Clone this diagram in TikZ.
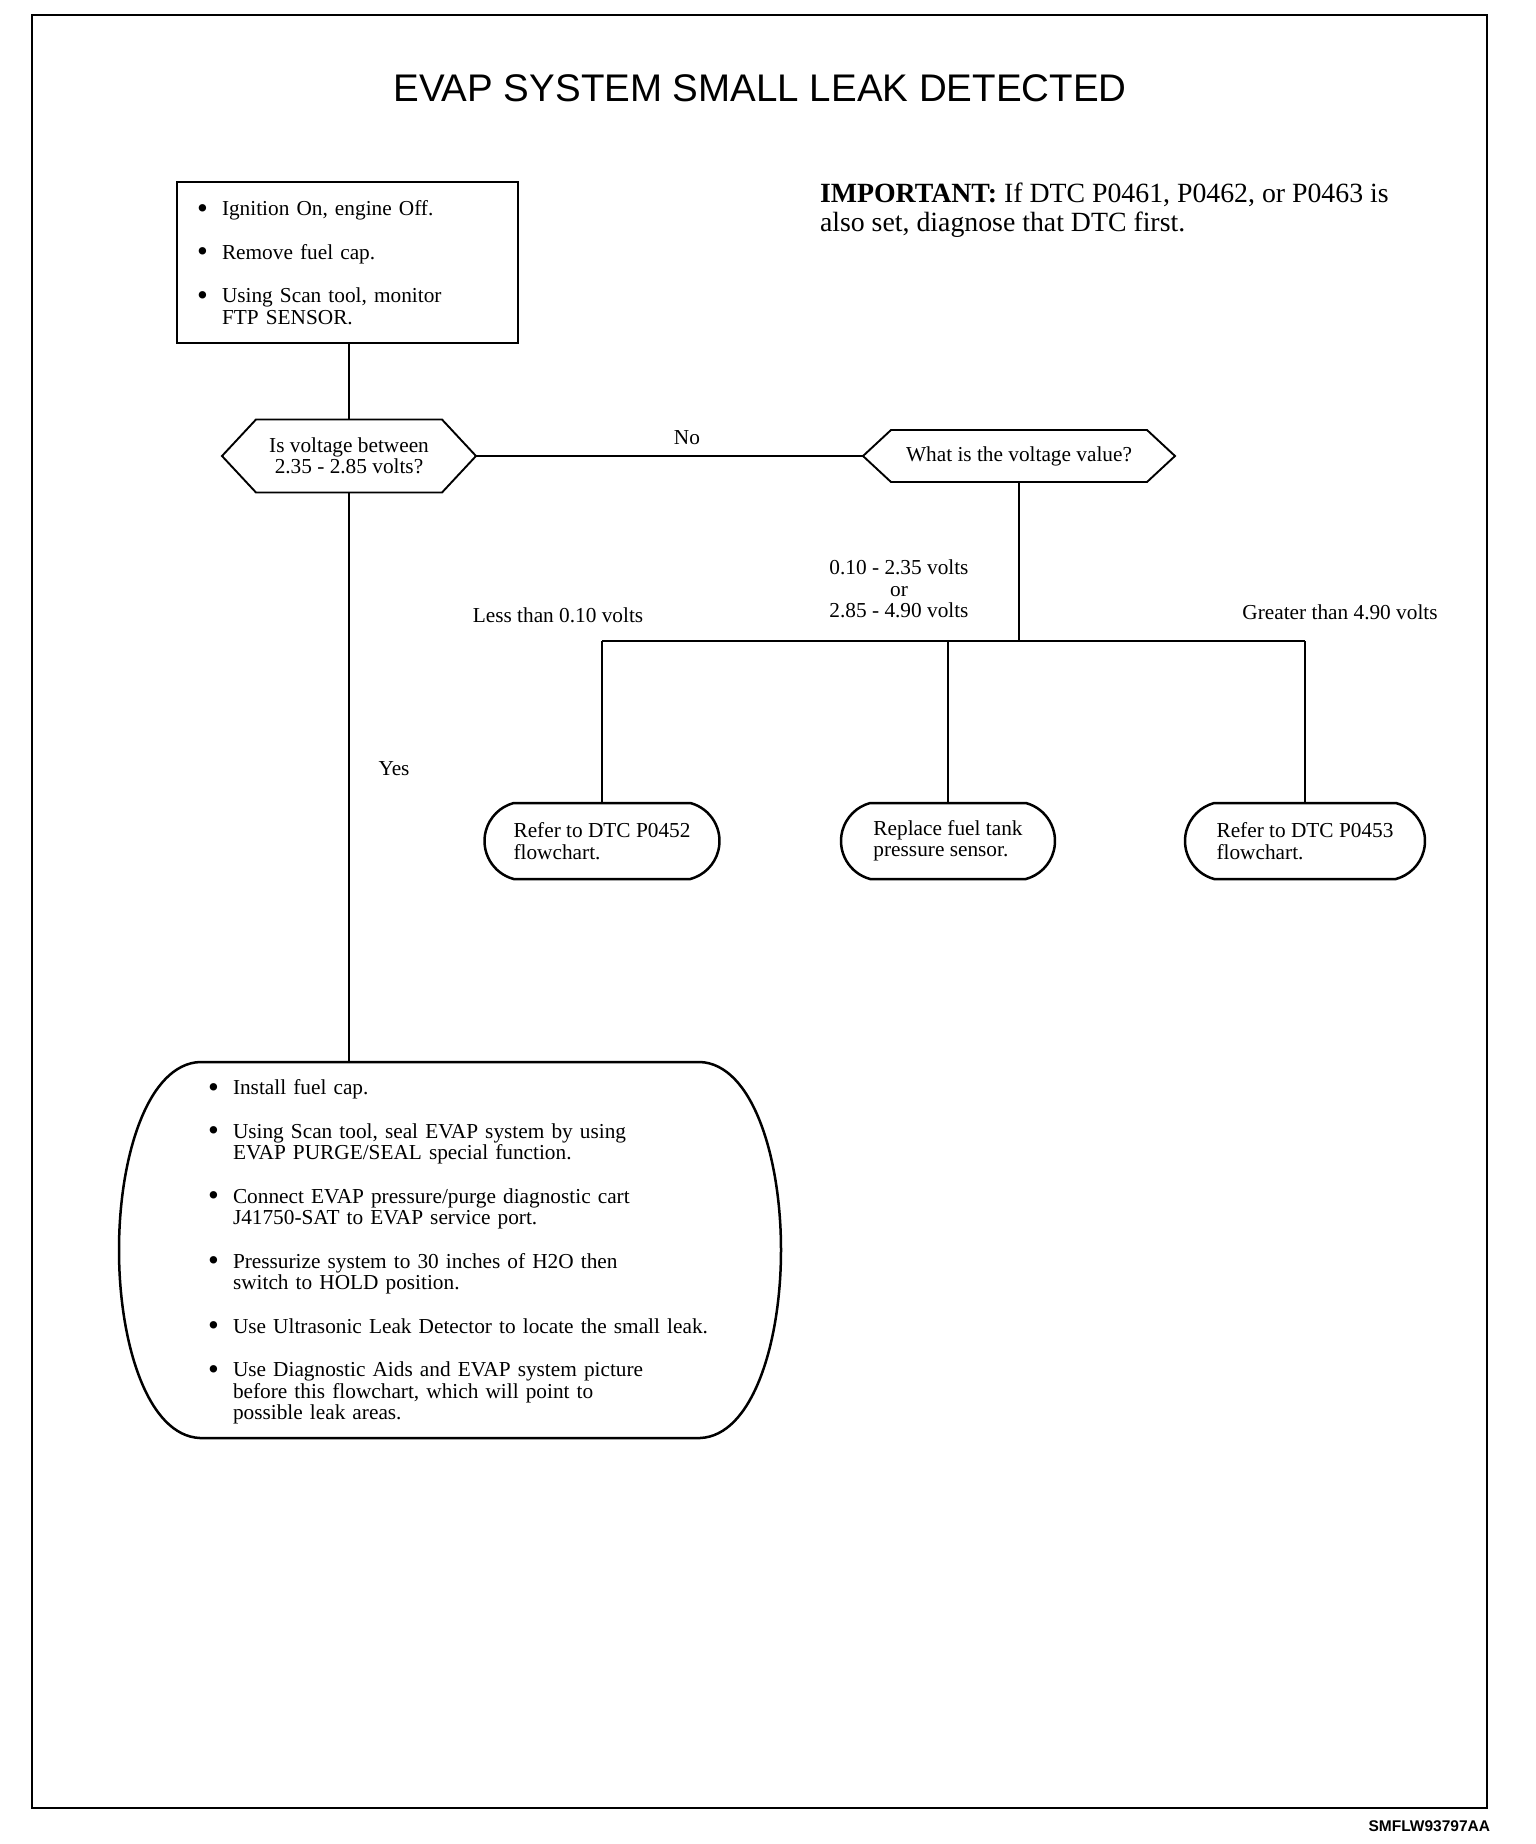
\documentclass[tikz,border=0pt]{standalone}
\usepackage{fontspec}
\usetikzlibrary{shapes.misc}
\setmainfont{Liberation Serif}
\newfontfamily\mysans{Liberation Sans}
\newcommand\mybul{\makebox[25pt][l]{\raisebox{-0.12em}{\scalebox{1.45}{\textbullet}}}}
\newcommand\myind{\hspace*{25pt}}
\begin{document}
\begin{tikzpicture}[x=1pt,y=-1pt,
  every node/.style={inner sep=0pt, outer sep=0pt},
  txt/.style={font=\fontsize{21.3}{21.5}\selectfont},
  frameline/.style={line width=2pt},
  boxline/.style={draw, line width=2.6pt},
  conn/.style={line width=1.5pt},
  hexline/.style={line width=1.9pt, line join=miter},
  bigline/.style={line width=2.5pt},
  ovalbox/.style={draw, line width=2.5pt, rounded rectangle, rounded rectangle arc length=150, minimum height=76pt, align=left}
]
\useasboundingbox (0,0) rectangle (1536,1844);
\fill[white] (0,0) rectangle (1536,1844);
\draw[frameline] (32,15) rectangle (1487,1808);

% title and note
\node[font=\mysans\fontsize{38.5}{40}\selectfont] (title) at (760,88) {EVAP SYSTEM SMALL LEAK DETECTED};
\node[anchor=north west, align=left, font=\fontsize{27.8}{28.5}\selectfont] (imp) at (820,183)
  {\textbf{IMPORTANT:} If DTC P0461, P0462, or P0463 is\\also set, diagnose that DTC first.};

% first box
\node[boxline, txt, minimum width=341pt, minimum height=161pt, text width=301pt, inner xsep=20pt, align=left] (b1) at (347.5,262.5)
  {\mybul Ignition On, engine Off.\\[22pt]
   \mybul Remove fuel cap.\\[22pt]
   \mybul Using Scan tool, monitor\\
   \myind FTP SENSOR.};

% decisions
\node[txt, align=center, minimum width=254pt, minimum height=73pt] (h1) at (349,456) {Is voltage between\\2.35 - 2.85 volts?};
\draw[hexline] (h1.west) -- ([xshift=34pt]h1.north west) -- ([xshift=-34pt]h1.north east) -- (h1.east)
  -- ([xshift=-34pt]h1.south east) -- ([xshift=34pt]h1.south west) -- cycle;

\node[txt, minimum width=312pt, minimum height=52pt] (h2) at (1019,456) {What is the voltage value?};
\draw[hexline] (h2.west) -- ([xshift=28pt]h2.north west) -- ([xshift=-28pt]h2.north east) -- (h2.east)
  -- ([xshift=-28pt]h2.south east) -- ([xshift=28pt]h2.south west) -- cycle;

% outcome boxes
\node[ovalbox, txt, minimum width=235pt] (o1) at (602,841) {Refer to DTC P0452\\flowchart.};
\node[ovalbox, txt, minimum width=214pt] (o2) at (948,841) {Replace fuel tank\\pressure sensor.};
\node[ovalbox, txt, minimum width=240pt] (o3) at (1305,841) {Refer to DTC P0453\\flowchart.};

% big box
\node[minimum width=662pt, minimum height=376pt] (big) at (450,1250) {};
\draw[bigline] (200,1062) -- (700,1062)
  .. controls (752,1064) and (781,1156) .. (781,1250)
  .. controls (781,1344) and (752,1436) .. (700,1438)
  -- (200,1438)
  .. controls (148,1436) and (119,1344) .. (119,1250)
  .. controls (119,1156) and (148,1064) .. (200,1062) -- cycle;
\node[txt, anchor=west, text width=540pt, align=left] (bigt) at (208,1252)
  {\mybul Install fuel cap.\\[22pt]
   \mybul Using Scan tool, seal EVAP system by using\\
   \myind EVAP PURGE/SEAL special function.\\[22pt]
   \mybul Connect EVAP pressure/purge diagnostic cart\\
   \myind J41750-SAT to EVAP service port.\\[22pt]
   \mybul Pressurize system to 30 inches of H2O then\\
   \myind switch to HOLD position.\\[22pt]
   \mybul Use Ultrasonic Leak Detector to locate the small leak.\\[22pt]
   \mybul Use Diagnostic Aids and EVAP system picture\\
   \myind before this flowchart, which will point to\\
   \myind possible leak areas.};

% connectors
\coordinate (barY) at (0,641);
\draw[conn] (h1.north |- b1.south) -- (h1.north);
\draw[conn] (h1.south) -- (h1.south |- big.north);
\draw[conn] (h1.east) -- (h2.west);
\draw[conn] (h2.south) -- (h2.south |- barY);
\draw[conn] (o1.north |- barY) -- (o3.north |- barY);
\draw[conn] (o1.north |- barY) -- (o1.north);
\draw[conn] (o2.north |- barY) -- (o2.north);
\draw[conn] (o3.north |- barY) -- (o3.north);

% labels
\node[txt] (no) at (687,438) {No};
\node[txt] (yes) at (394,769) {Yes};
\node[txt] (lt) at (558,615) {Less than 0.10 volts};
\node[txt, align=center] (mid) at (899,589) {0.10 - 2.35 volts\\or\\2.85 - 4.90 volts};
\node[txt] (gt) at (1340,612) {Greater than 4.90 volts};

\node[anchor=east, font=\mysans\bfseries\fontsize{15.5}{16}\selectfont] (code) at (1490,1826) {SMFLW93797AA};
\end{tikzpicture}
\end{document}
